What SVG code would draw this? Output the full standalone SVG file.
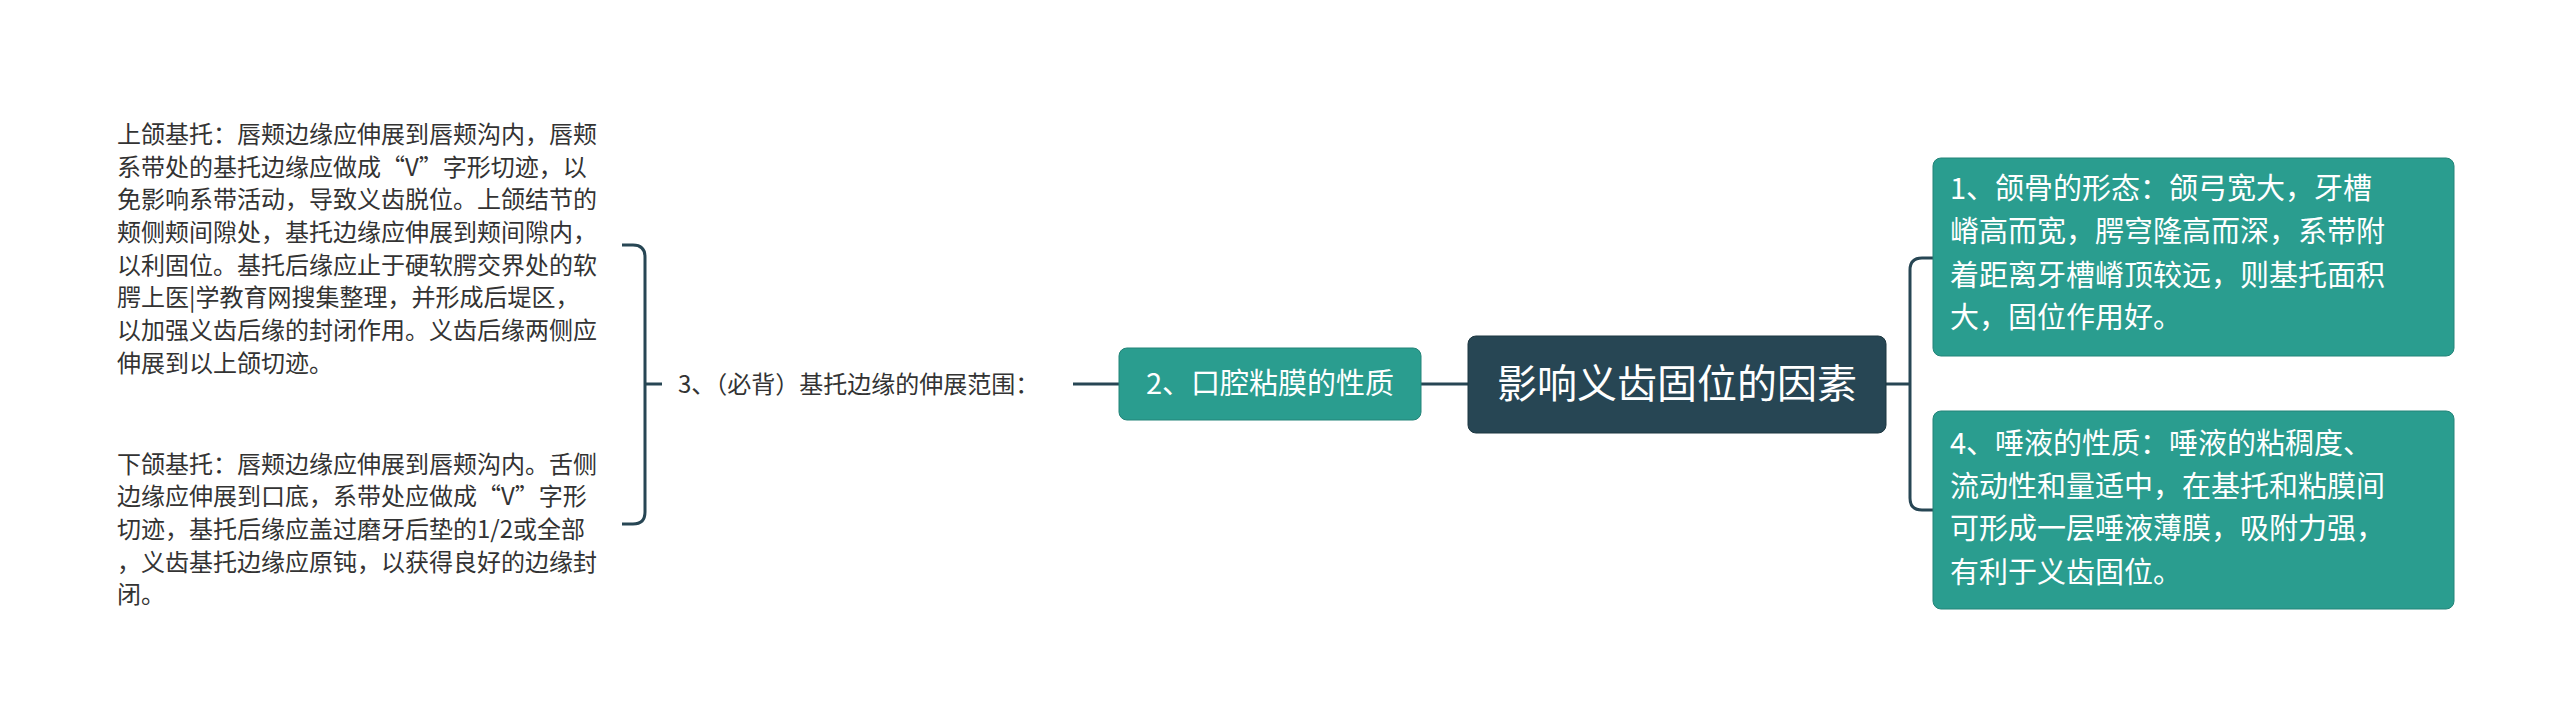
<svg xmlns="http://www.w3.org/2000/svg" width="2560" height="722" viewBox="0 0 2560 722">
<style>
text{font-family:"Noto Sans CJK SC","Noto Sans",sans-serif;}
.t{font-size:24px;fill:#333}
.w{fill:#fff;font-size:29px}
.teal{fill:#2a9d8f;stroke:#238478;stroke-width:1}
.ln{fill:none;stroke:#274654;stroke-width:3}
</style>
<rect width="2560" height="722" fill="#fff"/>
<g id="connectors">
<path class="ln" d="M1421 384H1468"/>
<path class="ln" d="M1886 384H1910M1933 258H1922Q1910 258 1910 270V498Q1910 510 1922 510H1933"/>
<path class="ln" d="M1073 384H1119"/>
<path class="ln" d="M622 245H633Q645 245 645 257V512Q645 524 633 524H622M645 384H662"/>
</g>
<g id="root">
<rect x="1468" y="336" width="418" height="97" rx="8" fill="#274654" stroke="#1d3640"/>
<text x="1677" y="398" text-anchor="middle" font-size="40" fill="#fff">影响义齿固位的因素</text>
</g>
<g id="n1">
<rect class="teal" x="1933" y="158" width="521" height="198" rx="8"/>
<text class="w" x="1950" y="199">1、颌骨的形态：颌弓宽大，牙槽</text>
<text class="w" x="1950" y="242">嵴高而宽，腭穹隆高而深，系带附</text>
<text class="w" x="1950" y="286">着距离牙槽嵴顶较远，则基托面积</text>
<text class="w" x="1950" y="328">大，固位作用好。</text>
</g>
<g id="n4">
<rect class="teal" x="1933" y="411" width="521" height="198" rx="8"/>
<text class="w" x="1950" y="454">4、唾液的性质：唾液的粘稠度、</text>
<text class="w" x="1950" y="497">流动性和量适中，在基托和粘膜间</text>
<text class="w" x="1950" y="539">可形成一层唾液薄膜，吸附力强，</text>
<text class="w" x="1950" y="583">有利于义齿固位。</text>
</g>
<g id="n2">
<rect class="teal" x="1119" y="348" width="302" height="72" rx="8"/>
<text class="w" x="1270" y="394" text-anchor="middle">2、口腔粘膜的性质</text>
</g>
<g id="n3">
<text class="t" x="678" y="393">3、（必背）基托边缘的伸展范围：</text>
</g>
<g id="n3a">
<text class="t" x="117" y="143">上颌基托：唇颊边缘应伸展到唇颊沟内，唇颊</text>
<text class="t" x="117" y="176">系带处的基托边缘应做成“V”字形切迹，以</text>
<text class="t" x="117" y="208">免影响系带活动，导致义齿脱位。上颌结节的</text>
<text class="t" x="117" y="241">颊侧颊间隙处，基托边缘应伸展到颊间隙内，</text>
<text class="t" x="117" y="274">以利固位。基托后缘应止于硬软腭交界处的软</text>
<text class="t" x="117" y="306">腭上医|学教育网搜集整理，并形成后堤区，</text>
<text class="t" x="117" y="339">以加强义齿后缘的封闭作用。义齿后缘两侧应</text>
<text class="t" x="117" y="372">伸展到以上颌切迹。</text>
</g>
<g id="n3b">
<text class="t" x="117" y="473">下颌基托：唇颊边缘应伸展到唇颊沟内。舌侧</text>
<text class="t" x="117" y="505">边缘应伸展到口底，系带处应做成“V”字形</text>
<text class="t" x="117" y="538">切迹，基托后缘应盖过磨牙后垫的1/2或全部</text>
<text class="t" x="117" y="571">，义齿基托边缘应原钝，以获得良好的边缘封</text>
<text class="t" x="117" y="603">闭。</text>
</g>
</svg>
